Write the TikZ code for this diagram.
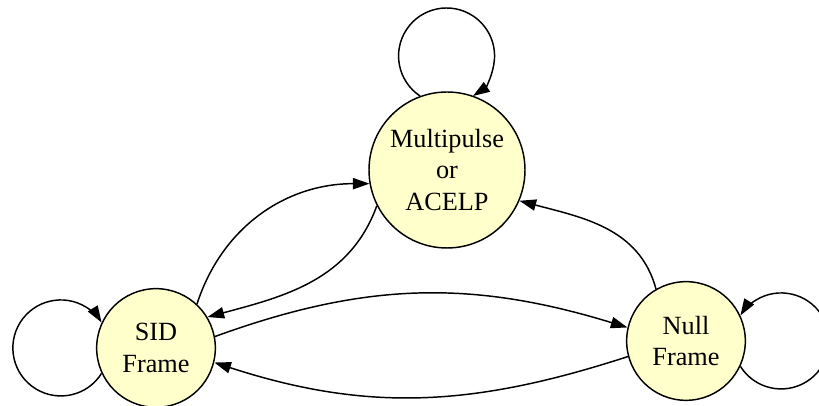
\documentclass[tikz,border=0pt]{standalone}
\usepackage{fontspec}
\setmainfont{Liberation Serif}
\usepackage{tikz}
\definecolor{statefill}{RGB}{255, 255, 204}
\usetikzlibrary{arrows.meta}

\begin{document}
\begin{tikzpicture}[
    x=0.75pt, y=0.75pt,
    state/.style={circle, draw=black, line width=1.1pt, fill=statefill,
                  minimum size=#1, inner sep=0pt, align=center,
                  font=\fontsize{19.7}{23.6}\selectfont},
    link/.style={->, line width=1.1pt, >={Triangle[length=12.5pt, width=8.5pt]}}
]
    \useasboundingbox (0,0) rectangle (819,406);

    % States
    \node[state=117pt] (mp) at (447,236) {Multipulse\\or\\ACELP};
    \node[state=89pt] (sid) at (156,58) {SID\\Frame};
    \node[state=89pt] (null) at (686,65) {Null\\Frame};

    % Self loops
    \draw[link] (mp.110) arc[start angle=236.5, end angle=-56.5, radius=48];
    \draw[link] (sid.205) arc[start angle=-32, end angle=-328, radius=48];
    \draw[link] (null.-25) arc[start angle=212, end angle=508, radius=48];

    % Transitions
    \draw[link] (sid.47) to[out=72, in=180] (mp.190);
    \draw[link] (mp.207) to[out=250, in=15] (sid.31);
    \draw[link] (sid.11) to[out=20, in=163] (null.167);
    \draw[link] (null.195) to[out=198, in=-18] (sid.-14);
    \draw[link] (null.120) to[out=105, in=-15] (mp.-23);
\end{tikzpicture}
\end{document}
